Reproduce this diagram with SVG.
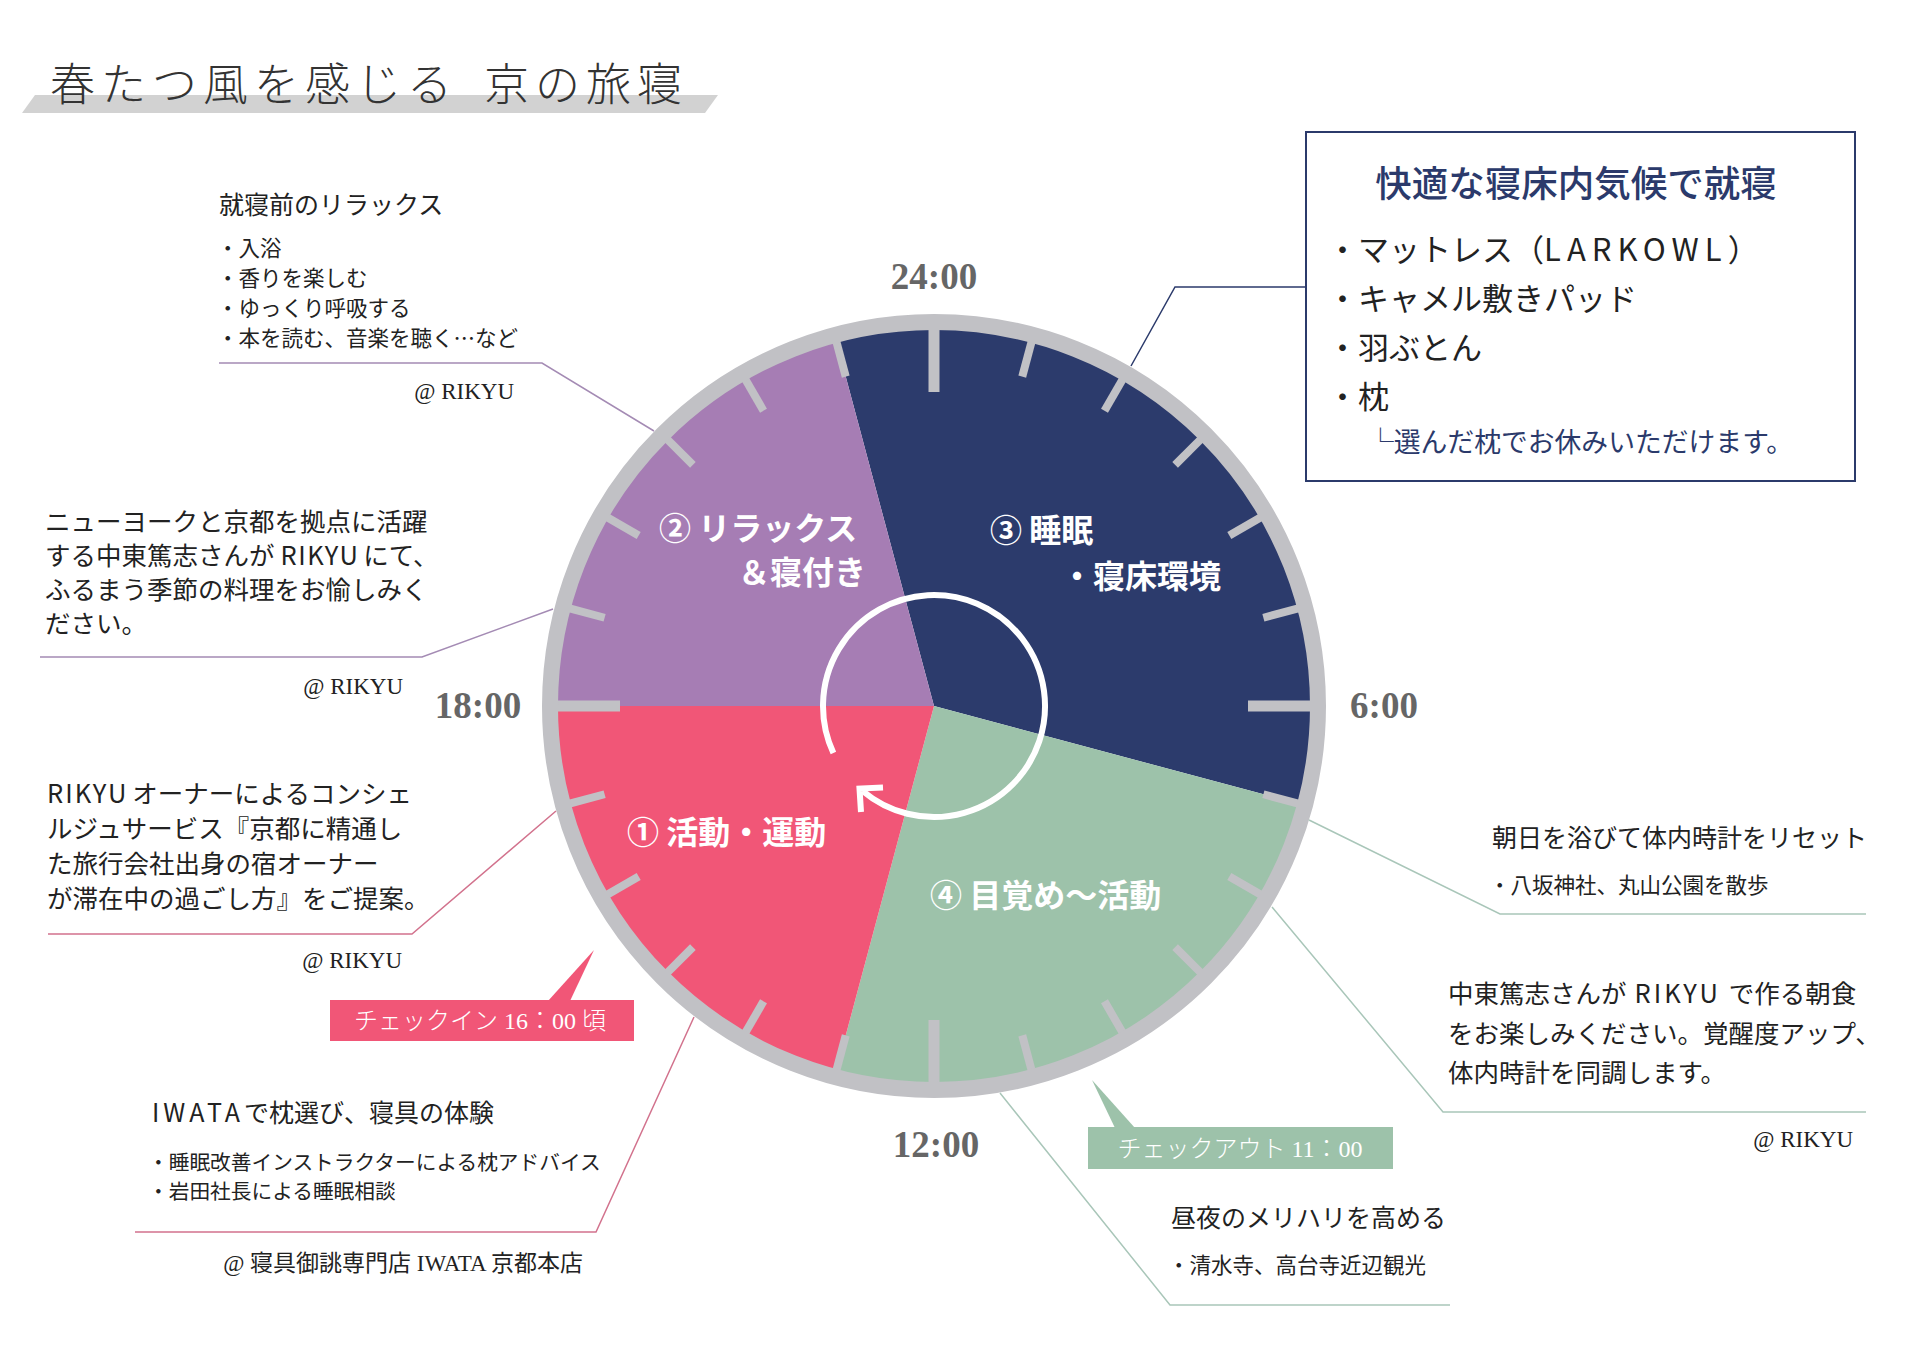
<svg xmlns="http://www.w3.org/2000/svg" width="1909" height="1350" viewBox="0 0 1909 1350">
<style>
.jp{font-family:"Noto Sans CJK JP","Noto Sans",sans-serif;fill:#222}
.h{font-size:25px}
.li{font-size:21.5px}
.li2{font-size:20.7px}
.p{font-size:25.5px}
.at{font-family:"Liberation Serif","Noto Sans CJK JP",serif;font-size:23px;fill:#222}
.time{font-family:"Liberation Serif",serif;font-weight:bold;font-size:37px;fill:#666;text-anchor:middle}
.sec{font-family:"Noto Sans CJK JP",sans-serif;font-weight:bold;font-size:32px;fill:#fff}
.tag{font-family:"Liberation Serif","Noto Sans CJK JP",serif;font-size:24px;fill:#fff;text-anchor:middle;font-weight:300}
.tk{stroke:#c1c1c5;stroke-width:8}
.tkl{stroke:#c1c1c5;stroke-width:11}
.cn{fill:none;stroke-width:1.5}
.box{font-family:"Noto Sans CJK JP",sans-serif;fill:#222;font-size:31px}
.ttl{font-family:"Noto Sans CJK JP",sans-serif;font-weight:300;font-size:45px;letter-spacing:6px;fill:#333}
</style>

<g id="title">
  <polygon points="22,113 35,95 718,95 705,113" fill="#d2d2d2"/>
  <text class="ttl" x="50" y="101">春たつ風を感じる</text>
  <text class="ttl" x="484" y="101">京の旅寝</text>
</g>

<g id="clock">
  <path d="M934,706 L834.6,335.1 A384,384 0 0 1 1304.9,805.4 Z" fill="#2c3b6c"/>
  <path d="M934,706 L1304.9,805.4 A384,384 0 0 1 834.6,1076.9 Z" fill="#9dc2aa"/>
  <path d="M934,706 L834.6,1076.9 A384,384 0 0 1 550,706 Z" fill="#f15677"/>
  <path d="M934,706 L550,706 A384,384 0 0 1 834.6,335.1 Z" fill="#a67db4"/>
  <g id="ticks">
    <line class="tkl" x1="934" y1="322" x2="934" y2="392"/>
    <line class="tk" x1="934" y1="322" x2="934" y2="365" transform="rotate(15 934 706)"/>
    <line class="tk" x1="934" y1="322" x2="934" y2="365" transform="rotate(30 934 706)"/>
    <line class="tk" x1="934" y1="322" x2="934" y2="365" transform="rotate(45 934 706)"/>
    <line class="tk" x1="934" y1="322" x2="934" y2="365" transform="rotate(60 934 706)"/>
    <line class="tk" x1="934" y1="322" x2="934" y2="365" transform="rotate(75 934 706)"/>
    <line class="tkl" x1="934" y1="322" x2="934" y2="392" transform="rotate(90 934 706)"/>
    <line class="tk" x1="934" y1="322" x2="934" y2="365" transform="rotate(105 934 706)"/>
    <line class="tk" x1="934" y1="322" x2="934" y2="365" transform="rotate(120 934 706)"/>
    <line class="tk" x1="934" y1="322" x2="934" y2="365" transform="rotate(135 934 706)"/>
    <line class="tk" x1="934" y1="322" x2="934" y2="365" transform="rotate(150 934 706)"/>
    <line class="tk" x1="934" y1="322" x2="934" y2="365" transform="rotate(165 934 706)"/>
    <line class="tkl" x1="934" y1="322" x2="934" y2="392" transform="rotate(180 934 706)"/>
    <line class="tk" x1="934" y1="322" x2="934" y2="365" transform="rotate(195 934 706)"/>
    <line class="tk" x1="934" y1="322" x2="934" y2="365" transform="rotate(210 934 706)"/>
    <line class="tk" x1="934" y1="322" x2="934" y2="365" transform="rotate(225 934 706)"/>
    <line class="tk" x1="934" y1="322" x2="934" y2="365" transform="rotate(240 934 706)"/>
    <line class="tk" x1="934" y1="322" x2="934" y2="365" transform="rotate(255 934 706)"/>
    <line class="tkl" x1="934" y1="322" x2="934" y2="392" transform="rotate(270 934 706)"/>
    <line class="tk" x1="934" y1="322" x2="934" y2="365" transform="rotate(285 934 706)"/>
    <line class="tk" x1="934" y1="322" x2="934" y2="365" transform="rotate(300 934 706)"/>
    <line class="tk" x1="934" y1="322" x2="934" y2="365" transform="rotate(315 934 706)"/>
    <line class="tk" x1="934" y1="322" x2="934" y2="365" transform="rotate(330 934 706)"/>
    <line class="tk" x1="934" y1="322" x2="934" y2="365" transform="rotate(345 934 706)"/>
  </g>
  <circle cx="934" cy="706" r="384" fill="none" stroke="#c1c1c5" stroke-width="16"/>
  <g id="cycle" fill="none" stroke="#fff" stroke-width="6">
    <path d="M833.4,752.9 A111,111 0 1 1 862.6,791"/>
    <polyline points="883,787.5 859.5,788.5 861,812"/>
  </g>
  <text class="time" x="934" y="289">24:00</text>
  <text class="time" x="1384" y="718">6:00</text>
  <text class="time" x="936" y="1157">12:00</text>
  <text class="time" x="478" y="718">18:00</text>
</g>

<g id="sector1"><text class="sec" x="627" y="844">① 活動・運動</text></g>
<g id="sector2">
  <text class="sec" x="659" y="540">② リラックス</text>
  <text class="sec" x="866" y="584" text-anchor="end">＆寝付き</text>
</g>
<g id="sector3">
  <text class="sec" x="990" y="542">③ 睡眠</text>
  <text class="sec" x="1061" y="588">・寝床環境</text>
</g>
<g id="sector4"><text class="sec" x="930" y="907">④ 目覚め〜活動</text></g>

<g id="connectors">
  <path class="cn" stroke="#a48bb4" d="M219,363 H542 L654,431"/>
  <path class="cn" stroke="#a48bb4" d="M40,657 H422 L553,609"/>
  <path class="cn" stroke="#d2728d" d="M48,934 H412 L556,811"/>
  <path class="cn" stroke="#d2728d" d="M135,1232 H596 L694,1017"/>
  <path class="cn" stroke="#a9c6b9" d="M1450,1305 H1170 L1000,1093"/>
  <path class="cn" stroke="#a9c6b9" d="M1866,914 H1500 L1309,820"/>
  <path class="cn" stroke="#a9c6b9" d="M1866,1112 H1443 L1272,907"/>
  <path class="cn" stroke="#2b3a6b" stroke-width="2" fill="none" d="M1306,287 H1175 L1131,366"/>
</g>

<g id="note-relax">
  <text class="jp h" x="219" y="214">就寝前のリラックス</text>
  <text class="jp li" x="217" y="256">・入浴</text>
  <text class="jp li" x="217" y="286">・香りを楽しむ</text>
  <text class="jp li" x="217" y="316">・ゆっくり呼吸する</text>
  <text class="jp li" x="217" y="346">・本を読む、音楽を聴く…など</text>
  <text class="at" x="514" y="399" text-anchor="end">@ RIKYU</text>
</g>

<g id="note-dinner">
  <text class="jp p" x="45" y="531">ニューヨークと京都を拠点に活躍</text>
  <text class="jp p" x="45" y="565">する中東篤志さんが<tspan dx="6" letter-spacing="1.5">RIKYU</tspan><tspan dx="4">にて、</tspan></text>
  <text class="jp p" x="45" y="599">ふるまう季節の料理をお愉しみく</text>
  <text class="jp p" x="45" y="633">ださい。</text>
  <text class="at" x="403" y="694" text-anchor="end">@ RIKYU</text>
</g>

<g id="note-concierge">
  <text class="jp p" x="47" y="803"><tspan letter-spacing="2">RIKYU</tspan><tspan dx="4">オーナーによるコンシェ</tspan></text>
  <text class="jp p" x="47" y="838">ルジュサービス『京都に精通し</text>
  <text class="jp p" x="47" y="873">た旅行会社出身の宿オーナー</text>
  <text class="jp p" x="47" y="908">が滞在中の過ごし方』をご提案。</text>
  <text class="at" x="402" y="968" text-anchor="end">@ RIKYU</text>
</g>

<g id="checkin">
  <rect x="330" y="1000" width="304" height="41" fill="#f15677"/>
  <polygon points="548,1001 594,950 570,1001" fill="#f15677"/>
  <text class="tag" x="480" y="1029">チェックイン 16：00 頃</text>
</g>

<g id="note-iwata">
  <text class="jp h" x="152" y="1122"><tspan letter-spacing="4">IWATA</tspan>で枕選び、寝具の体験</text>
  <text class="jp li2" x="148" y="1170">・睡眠改善インストラクターによる枕アドバイス</text>
  <text class="jp li2" x="148" y="1199">・岩田社長による睡眠相談</text>
  <text class="at" x="583" y="1271" text-anchor="end">@ 寝具御誂専門店 IWATA 京都本店</text>
</g>

<g id="checkout">
  <rect x="1088" y="1127" width="305" height="42" fill="#9dc2aa"/>
  <polygon points="1115,1128 1092,1080 1135,1128" fill="#9dc2aa"/>
  <text class="tag" x="1240" y="1157">チェックアウト 11：00</text>
</g>

<g id="note-sightseeing">
  <text class="jp h" x="1171" y="1227">昼夜のメリハリを高める</text>
  <text class="jp li" x="1168" y="1273">・清水寺、高台寺近辺観光</text>
</g>

<g id="note-morning">
  <text class="jp h" x="1492" y="847">朝日を浴びて体内時計をリセット</text>
  <text class="jp li" x="1489" y="893">・八坂神社、丸山公園を散歩</text>
</g>

<g id="note-breakfast">
  <text class="jp p" x="1448" y="1003">中東篤志さんが<tspan dx="8" letter-spacing="3">RIKYU</tspan><tspan dx="8">で作る朝食</tspan></text>
  <text class="jp p" x="1448" y="1043">をお楽しみください。覚醒度アップ、</text>
  <text class="jp p" x="1448" y="1082">体内時計を同調します。</text>
  <text class="at" x="1853" y="1147" text-anchor="end">@ RIKYU</text>
</g>

<g id="sleep-box">
  <rect x="1306" y="132" width="549" height="349" fill="#fff" stroke="#2b3a6b" stroke-width="2"/>
  <text x="1576" y="197" text-anchor="middle" font-family="Noto Sans CJK JP, sans-serif" font-weight="500" font-size="36.5" fill="#2b3a6b">快適な寝床内気候で就寝</text>
  <text class="box" x="1327" y="261">・マットレス（<tspan letter-spacing="6">LARKOWL</tspan>）</text>
  <text class="box" x="1327" y="310">・キャメル敷きパッド</text>
  <text class="box" x="1327" y="359">・羽ぶとん</text>
  <text class="box" x="1327" y="408">・枕</text>
  <text x="1367" y="452" font-family="Noto Sans CJK JP, sans-serif" font-size="26.8" fill="#2b3a6b">└選んだ枕でお休みいただけます。</text>
</g>
</svg>
